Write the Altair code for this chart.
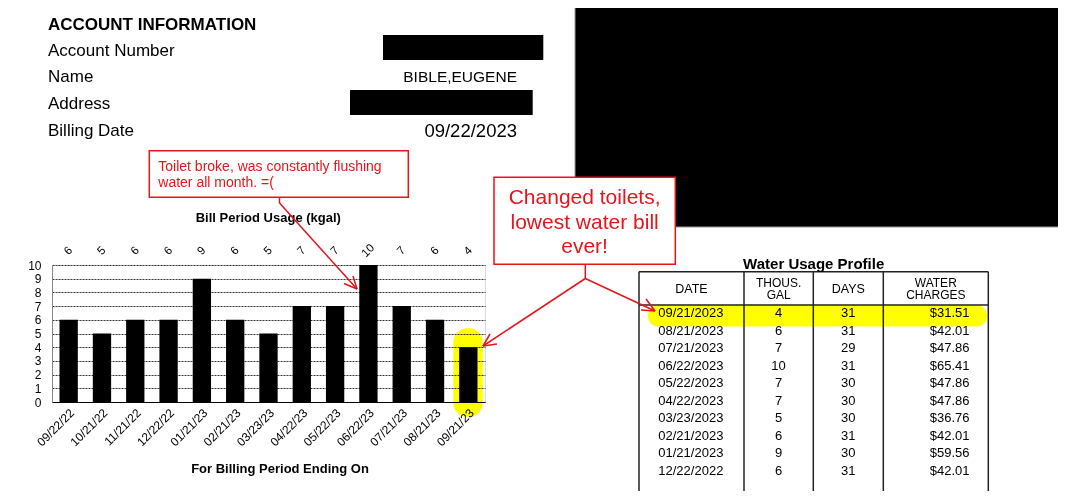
import altair as alt
import pandas as pd

# ---------------- data ----------------
periods = ["09/22/22", "10/21/22", "11/21/22", "12/22/22", "01/21/23", "02/21/23",
           "03/23/23", "04/22/23", "05/22/23", "06/22/23", "07/21/23", "08/21/23", "09/21/23"]
usage = [6, 5, 6, 6, 9, 6, 5, 7, 7, 10, 7, 6, 4]

tbl_date = ["09/21/2023", "08/21/2023", "07/21/2023", "06/22/2023", "05/22/2023",
            "04/22/2023", "03/23/2023", "02/21/2023", "01/21/2023", "12/22/2022"]
tbl_gal = [4, 6, 7, 10, 7, 7, 5, 6, 9, 6]
tbl_days = [31, 31, 29, 31, 30, 30, 30, 31, 30, 31]
tbl_charges = [31.51, 42.01, 47.86, 65.41, 47.86, 47.86, 36.76, 42.01, 59.56, 42.01]

acct_labels = ["Account Number", "Name", "Address", "Billing Date"]
acct_name = "BIBLE,EUGENE"
billing_date = "09/22/2023"

note1 = ["Toilet broke, was constantly flushing", "water all month. =("]
note2 = ["Changed toilets,", "lowest water bill", "ever!"]

# ---------------- layout helpers ----------------
FONT = "Liberation Sans"
RED = "#e8141b"
PX0, PY0 = 52, 265          # page position of the bar-plot origin
W, H = 433, 137


def px(x):
    return x - PX0


def py(y):
    return y - PY0


one = pd.DataFrame({"k": [0]})


def txt(text, x, y, size=13, weight="normal", align="left", color="black", baseline="alphabetic"):
    return alt.Chart(one).mark_text(
        text=text, font=FONT, fontSize=size, fontWeight=weight, align=align,
        baseline=baseline, color=color
    ).encode(x=alt.value(px(x)), y=alt.value(py(y)))


def box(x1, y1, x2, y2, fill="black", stroke=None, sw=1.0, radius=0, blend=None, opacity=1.0):
    kw = dict(fill=fill, cornerRadius=radius, opacity=opacity)
    if stroke:
        kw.update(stroke=stroke, strokeWidth=sw)
    if blend:
        kw.update(blend=blend)
    return alt.Chart(one).mark_rect(**kw).encode(
        x=alt.value(px(x1)), x2=alt.value(px(x2)), y=alt.value(py(y1)), y2=alt.value(py(y2)))


def segs(points, color, sw):
    df = pd.DataFrame(points, columns=["a", "b", "c", "d"])
    df["a"] = df["a"] - PX0
    df["c"] = df["c"] - PX0
    df["b"] = df["b"] - PY0
    df["d"] = df["d"] - PY0
    return alt.Chart(df).mark_rule(color=color, strokeWidth=sw).encode(
        x=alt.X("a:Q", scale=None), y=alt.Y("b:Q", scale=None),
        x2="c:Q", y2="d:Q")


# ---------------- bar chart ----------------
bars_df = pd.DataFrame({"period": periods, "usage": usage})

xenc = alt.X("period:N", sort=periods,
             scale=alt.Scale(paddingInner=0.45, paddingOuter=0.225),
             axis=alt.Axis(title=None, labelAngle=315, labelFontSize=12, labelFont=FONT,
                           labelColor="black", ticks=False, labelPadding=5,
                           domainColor="black", domainWidth=1.2))
yenc = alt.Y("usage:Q", scale=alt.Scale(domain=[0, 10], nice=False),
             axis=alt.Axis(title=None, values=list(range(11)), grid=True, gridColor="#333",
                           gridDash=[2, 1], gridWidth=1, ticks=False, labelPadding=11,
                           labelFontSize=12, labelFont=FONT, labelColor="black",
                           domainColor="#888", domainWidth=1))

highlight_bar = box(453.3, 328.3, 482.7, 417, fill="#ffff00", radius=14, blend="multiply")
bars = alt.Chart(bars_df).mark_bar(color="black").encode(x=xenc, y=yenc)
top_labels = alt.Chart(bars_df).mark_text(
    angle=315, fontSize=11.5, font=FONT, color="black", align="center", baseline="middle"
).encode(x=xenc, y=alt.value(-14), text="usage:Q")

chart_title = txt("Bill Period Usage (kgal)", 268.3, 221.5, size=13, weight="bold", align="center")
x_title = txt("For Billing Period Ending On", 280, 472.5, size=13, weight="bold", align="center")

# ---------------- account info ----------------
acct = [txt("ACCOUNT INFORMATION", 48, 30, size=17, weight="bold")]
for lab, yb in zip(acct_labels, [56, 82, 109, 136]):
    acct.append(txt(lab, 48, yb, size=17))
acct.append(box(383, 35, 543.3, 60))
acct.append(txt(acct_name, 517, 82, size=15.5, align="right"))
acct.append(box(350, 90, 532.7, 115))
acct.append(txt(billing_date, 517, 137, size=18.5, align="right"))

big_black = box(575, 0, 1060, 227, fill="black", stroke="#999", sw=1)

# ---------------- table ----------------
tdf = pd.DataFrame({"i": list(range(len(tbl_date))), "date": tbl_date, "gal": tbl_gal,
                    "days": tbl_days, "charges": tbl_charges})
ROW0, STEP = 313, 17.55
tbase = alt.Chart(tdf).transform_calculate(ty=f"{ROW0 - PY0} + datum.i * {STEP}")
tcommon = dict(font=FONT, fontSize=13, color="black", baseline="middle")
t_date = tbase.mark_text(align="left", **tcommon).encode(
    x=alt.value(px(658.3)), y=alt.Y("ty:Q", scale=None), text="date:N")
t_gal = tbase.mark_text(align="center", **tcommon).encode(
    x=alt.value(px(778.5)), y=alt.Y("ty:Q", scale=None), text="gal:Q")
t_days = tbase.mark_text(align="center", **tcommon).encode(
    x=alt.value(px(848.3)), y=alt.Y("ty:Q", scale=None), text="days:Q")
t_chg = tbase.mark_text(align="right", **tcommon).encode(
    x=alt.value(px(969.5)), y=alt.Y("ty:Q", scale=None), text=alt.Text("charges:Q", format="$.2f"))

row_hl = box(648, 305.5, 987, 326.5, fill="#ffff00", radius=10, blend="multiply")
tbl_title = txt("Water Usage Profile", 813.7, 268.5, size=15, weight="bold", align="center")
tbl_lines = segs([
    (639, 271.7, 988.3, 271.7),
    (639, 271.7, 639, 500),
    (988.3, 271.7, 988.3, 500),
    (639, 305, 988.3, 305),
    (744, 271.7, 744, 500),
    (813.3, 271.7, 813.3, 500),
    (883.3, 271.7, 883.3, 500),
], "#222", 1.5)
hdr = [
    txt("DATE", 691.5, 293, size=12.5, align="center"),
    txt("THOUS.", 778.7, 286.5, size=12, align="center"),
    txt("GAL", 778.7, 298.5, size=12, align="center"),
    txt("DAYS", 848.3, 293, size=12.5, align="center"),
    txt("WATER", 935.8, 286.5, size=12, align="center"),
    txt("CHARGES", 935.8, 298.5, size=12, align="center"),
]

# ---------------- annotations ----------------
arrows = segs([
    (279.5, 197.3, 279.5, 203),
    (279.5, 203, 357, 289),
    (357, 289, 353, 276),
    (357, 289, 344, 283.5),
    (585.3, 264.3, 585.3, 278.5),
    (585.3, 278.5, 483, 346),
    (483, 346, 497, 344),
    (483, 346, 490, 334),
    (585.3, 278.5, 655, 311),
    (655, 311, 646, 299),
    (655, 311, 641, 310),
], RED, 1.5)

note1_box = box(149.3, 150.7, 408.3, 197.3, fill="white", stroke=RED, sw=1.5)
note1_txt = [txt(note1[0], 158.3, 171, size=14, color=RED),
             txt(note1[1], 158.3, 187, size=14, color=RED)]
note2_box = box(494, 177.3, 675.3, 264.3, fill="white", stroke=RED, sw=1.5)
note2_txt = [txt(s, 584.6, yb, size=21, color=RED, align="center")
             for s, yb in zip(note2, [204, 228.5, 253])]

layers = ([big_black, highlight_bar, bars, top_labels, chart_title, x_title] + acct +
          [row_hl, tbl_lines, tbl_title] + hdr + [t_date, t_gal, t_days, t_chg] +
          [arrows, note1_box] + note1_txt + [note2_box] + note2_txt)

chart = alt.layer(*layers).properties(
    width=W, height=H,
    autosize=alt.AutoSizeParams(type="none"),
    padding={"left": PX0 - 8, "top": PY0 - 8, "right": 1050 - (PX0 - 8) - W,
             "bottom": 483 - (PY0 - 8) - H},
).configure_view(stroke=None).configure(background="white")

chart.save("out.html", embed_options={"renderer": "svg", "actions": False})
